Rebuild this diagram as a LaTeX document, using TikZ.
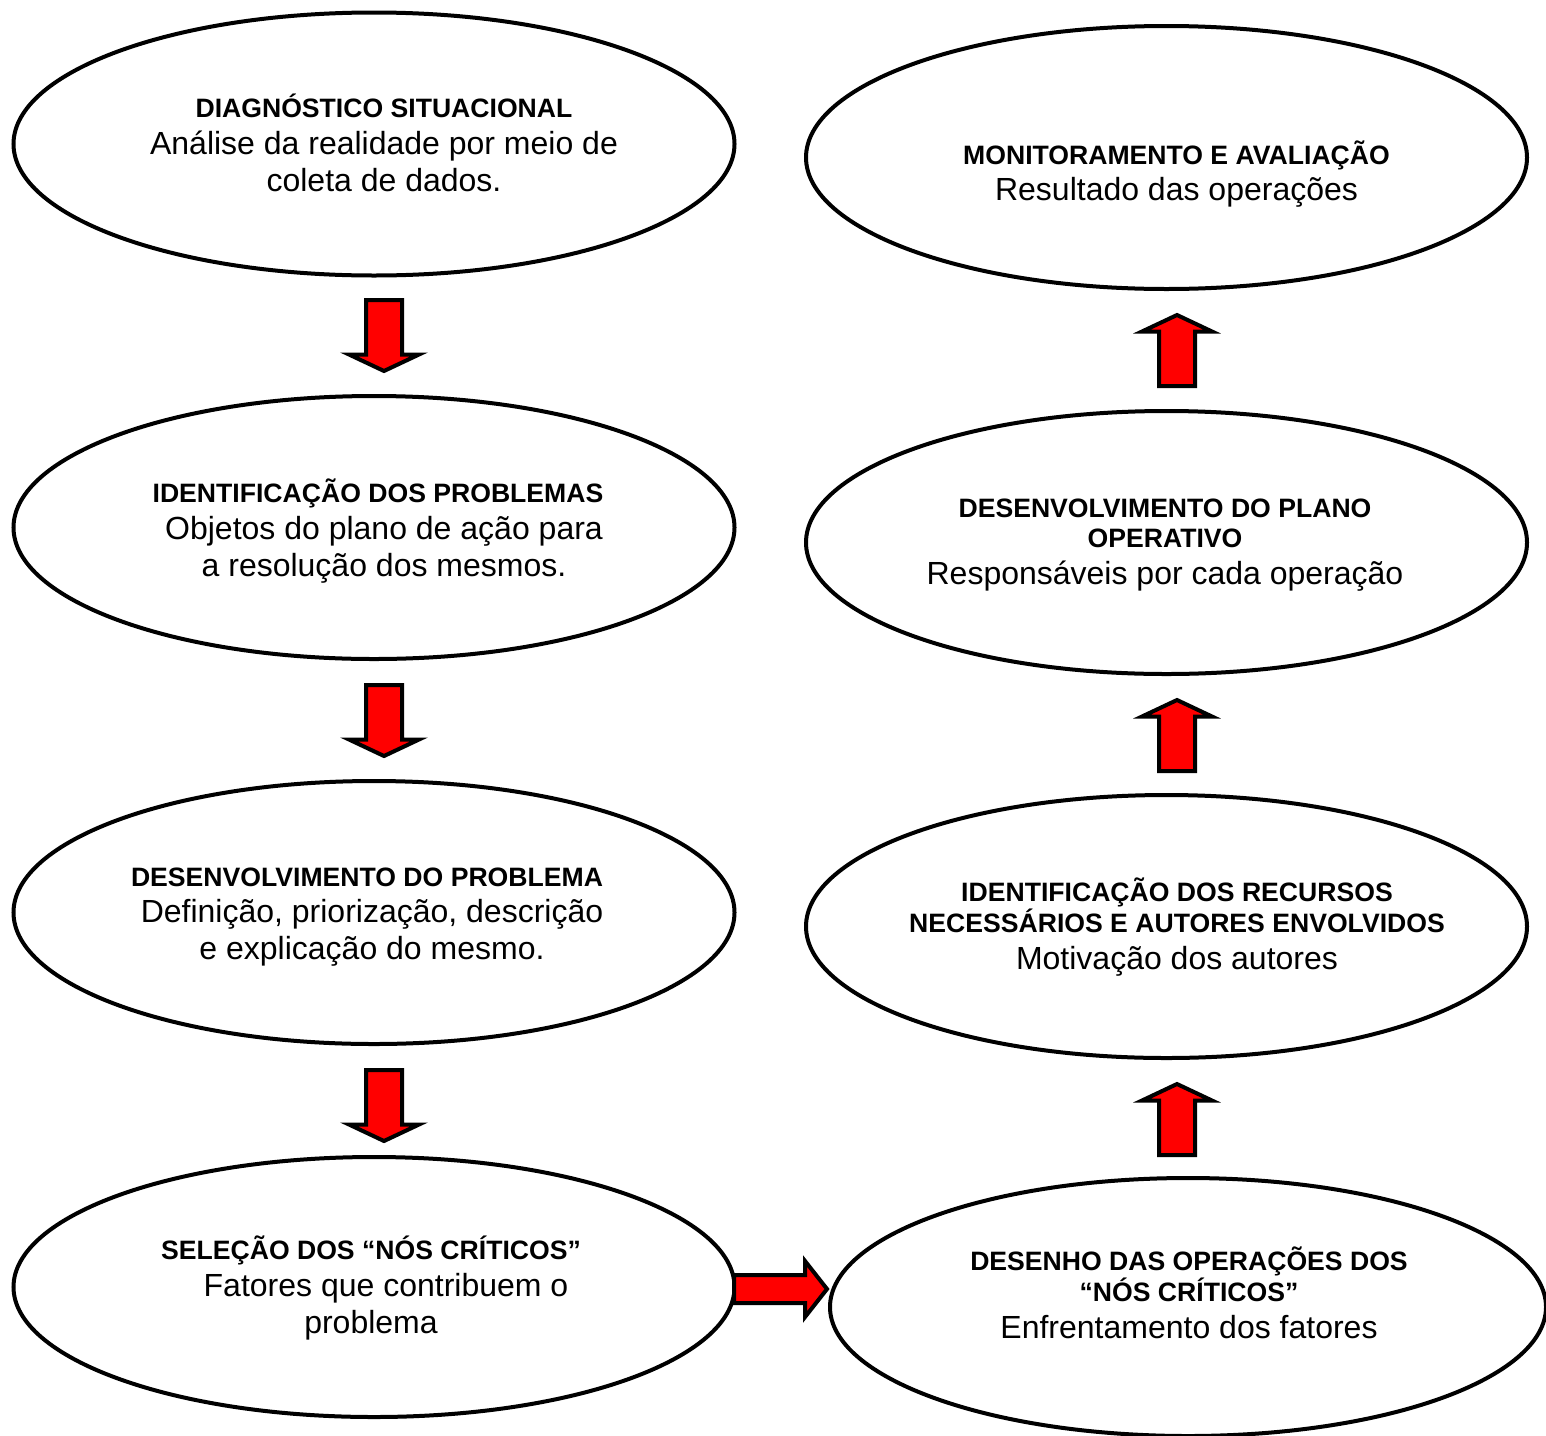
\documentclass[tikz,border=0pt]{standalone}
\usepackage{fontspec}
\setmainfont{Liberation Sans}
\usetikzlibrary{shapes.geometric}
\tikzset{
  elli/.style={draw, line width=4pt, ellipse, inner sep=0pt, minimum width=721pt, minimum height=263pt},
  txt/.style={align=center, inner sep=0pt, font=\fontsize{32}{36.8}\selectfont},
  blk/.style={draw, line width=4pt, fill=red, line join=miter},
}
\newcommand\hd[1]{{\fontsize{26.6}{30.6}\selectfont\bfseries #1}}
\begin{document}
\begin{tikzpicture}[x=1pt,y=-1pt]
\useasboundingbox (0,0) rectangle (1546,1435);
\clip (0,0) rectangle (1546,1435);
% left column
\node[elli] (L1) at (374,144) {};
\node[elli] (L2) at (374,527.5) {};
\node[elli] (L3) at (374,912.5) {};
\node[elli, minimum height=260pt] (L4) at (374,1287) {};
% right column
\node[elli] (R1) at (1166.5,157.5) {};
\node[elli] (R2) at (1166.5,542.5) {};
\node[elli] (R3) at (1166.5,926.5) {};
\node[elli, minimum width=716pt, minimum height=258pt] (R4) at (1188,1307) {};
% texts
\node[txt] (tL1) at (384,143) {\hd{DIAGNÓSTICO SITUACIONAL}\\Análise da realidade por meio de\\coleta de dados.};
\node[txt] (tL2) at (384,531) {\hd{IDENTIFICAÇÃO DOS PROBLEMAS}\hspace*{12pt}\null\\Objetos do plano de ação para\\a resolução dos mesmos.};
\node[txt] (tL3) at (372,917) {\hd{DESENVOLVIMENTO DO PROBLEMA}\hspace*{10pt}\null\\Definição, priorização, descrição\\e explicação do mesmo.};
\node[txt] (tL4) at (371,1288) {\hd{SELEÇÃO DOS “NÓS CRÍTICOS”}\\\hspace*{30pt}Fatores que contribuem o\\problema};
\node[txt] (tR1) at (1176.5,174) {\hd{MONITORAMENTO E AVALIAÇÃO}\\Resultado das operações};
\node[txt] (tR2) at (1165,545) {\hd{DESENVOLVIMENTO DO PLANO}\\[-6pt]\hd{OPERATIVO}\\Responsáveis por cada operação};
\node[txt] (tR3) at (1177,927) {\hd{IDENTIFICAÇÃO DOS RECURSOS}\\[-6pt]\hd{NECESSÁRIOS E AUTORES ENVOLVIDOS}\\Motivação dos autores};
\node[txt] (tR4) at (1189,1293) {\hd{DESENHO DAS OPERAÇÕES DOS}\\[-6pt]\hd{“NÓS CRÍTICOS”}\\Enfrentamento dos fatores};
% arrow anchors
\coordinate (d1) at (384,300);
\coordinate (d2) at (384,685);
\coordinate (d3) at (384,1070);
\coordinate (u1) at (1177,386);
\coordinate (u2) at (1177,771);
\coordinate (u3) at (1177,1155);
\coordinate (r1) at (734,1289);
% down arrows
\foreach \c in {d1,d2,d3}{
  \draw[blk, shift={(\c)}] (-18,0) -- (18,0) -- (18,54.5) -- (35,54.5) -- (0,71) -- (-35,54.5) -- (-18,54.5) -- cycle;
}
% up arrows
\foreach \c in {u1,u2,u3}{
  \draw[blk, shift={(\c)}] (-18,0) -- (18,0) -- (18,-54.5) -- (35,-54.5) -- (0,-71) -- (-35,-54.5) -- (-18,-54.5) -- cycle;
}
% right arrow
\draw[blk, shift={(r1)}] (0,-14) -- (71,-14) -- (71,-28) -- (93,0) -- (71,28) -- (71,14) -- (0,14) -- cycle;
\end{tikzpicture}
\end{document}
